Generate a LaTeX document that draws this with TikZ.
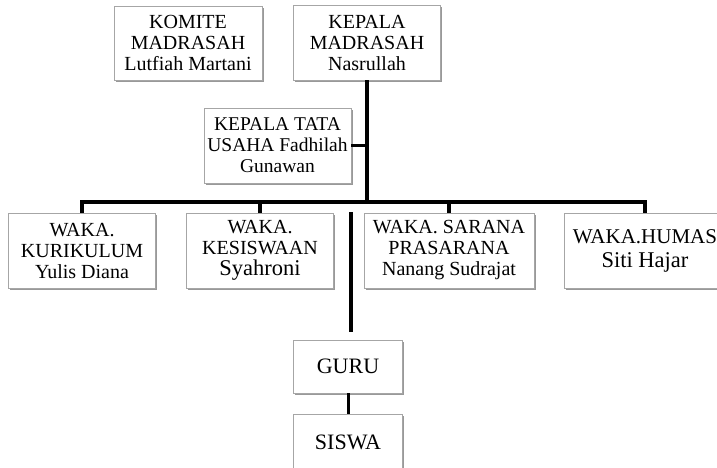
\documentclass[tikz,border=0pt]{standalone}
\usepackage{fontspec}
\setmainfont{Liberation Serif}
\usetikzlibrary{shadows}
\begin{document}
\begin{tikzpicture}[x=1pt,y=-1pt,
  box/.style={draw=gray!70, line width=0.8pt, fill=white,
    drop shadow={shadow xshift=1.5pt, shadow yshift=-2pt, opacity=0.4, fill=black},
    inner sep=0pt, align=center, font=\fontsize{20}{21}\selectfont},
  conn/.style={line width=3.6pt, line join=miter},
  big/.style={font=\fontsize{22}{24}\selectfont}]
\clip (0,0) rectangle (717,467);
\fill[white] (0,0) rectangle (717,467);
% nodes
\node[box, minimum width=148pt, minimum height=74pt] (komite) at (188,43)
  {KOMITE\\MADRASAH\\Lutfiah Martani};
\node[box, minimum width=147pt, minimum height=75pt] (kepala) at (367,42.5)
  {KEPALA\\MADRASAH\\Nasrullah};
\node[box, minimum width=147pt, minimum height=75pt, font=\fontsize{19.5}{21}\selectfont] (ktu) at (277.5,145.5)
  {KEPALA TATA\\USAHA Fadhilah\\Gunawan};
\node[box, minimum width=147pt, minimum height=75pt] (kur) at (82,250.5)
  {WAKA.\\KURIKULUM\\Yulis Diana};
\node[box, minimum width=147pt, minimum height=75pt] (kes) at (260,250.5)
  {WAKA.\\KESISWAAN\\{\fontsize{22.5}{24}\selectfont Syahroni}};
\node[box, minimum width=170pt, minimum height=75pt] (sar) at (449,250.5)
  {WAKA. SARANA\\PRASARANA\\Nanang Sudrajat};
\node[box, minimum width=162pt, minimum height=75pt, font=\fontsize{21}{24}\selectfont] (hum) at (645,250.5)
  {WAKA.HUMAS\\{\fontsize{22.5}{24}\selectfont Siti Hajar}};
\node[box, big, minimum width=109pt, minimum height=53pt] (guru) at (348,366.5)
  {GURU};
\node[box, big, minimum width=109pt, minimum height=56pt] (siswa) at (348,442)
  {SISWA};
% connectors
\coordinate (hb) at (367,202);
\coordinate (g1) at (351,212);
\coordinate (g2) at (351,332);
\draw[conn] (kepala.south) -- (hb);
\draw[conn] (ktu.east) -- (ktu.east -| kepala.south);
\draw[conn] (kur.north) |- (hb) -| (hum.north);
\draw[conn] (kes.north) -- (kes.north |- hb);
\draw[conn] (sar.north) -- (sar.north |- hb);
\draw[conn] (g1) -- (g2);
\draw[line width=3pt] (guru.south) -- (siswa.north);
\end{tikzpicture}
\end{document}
